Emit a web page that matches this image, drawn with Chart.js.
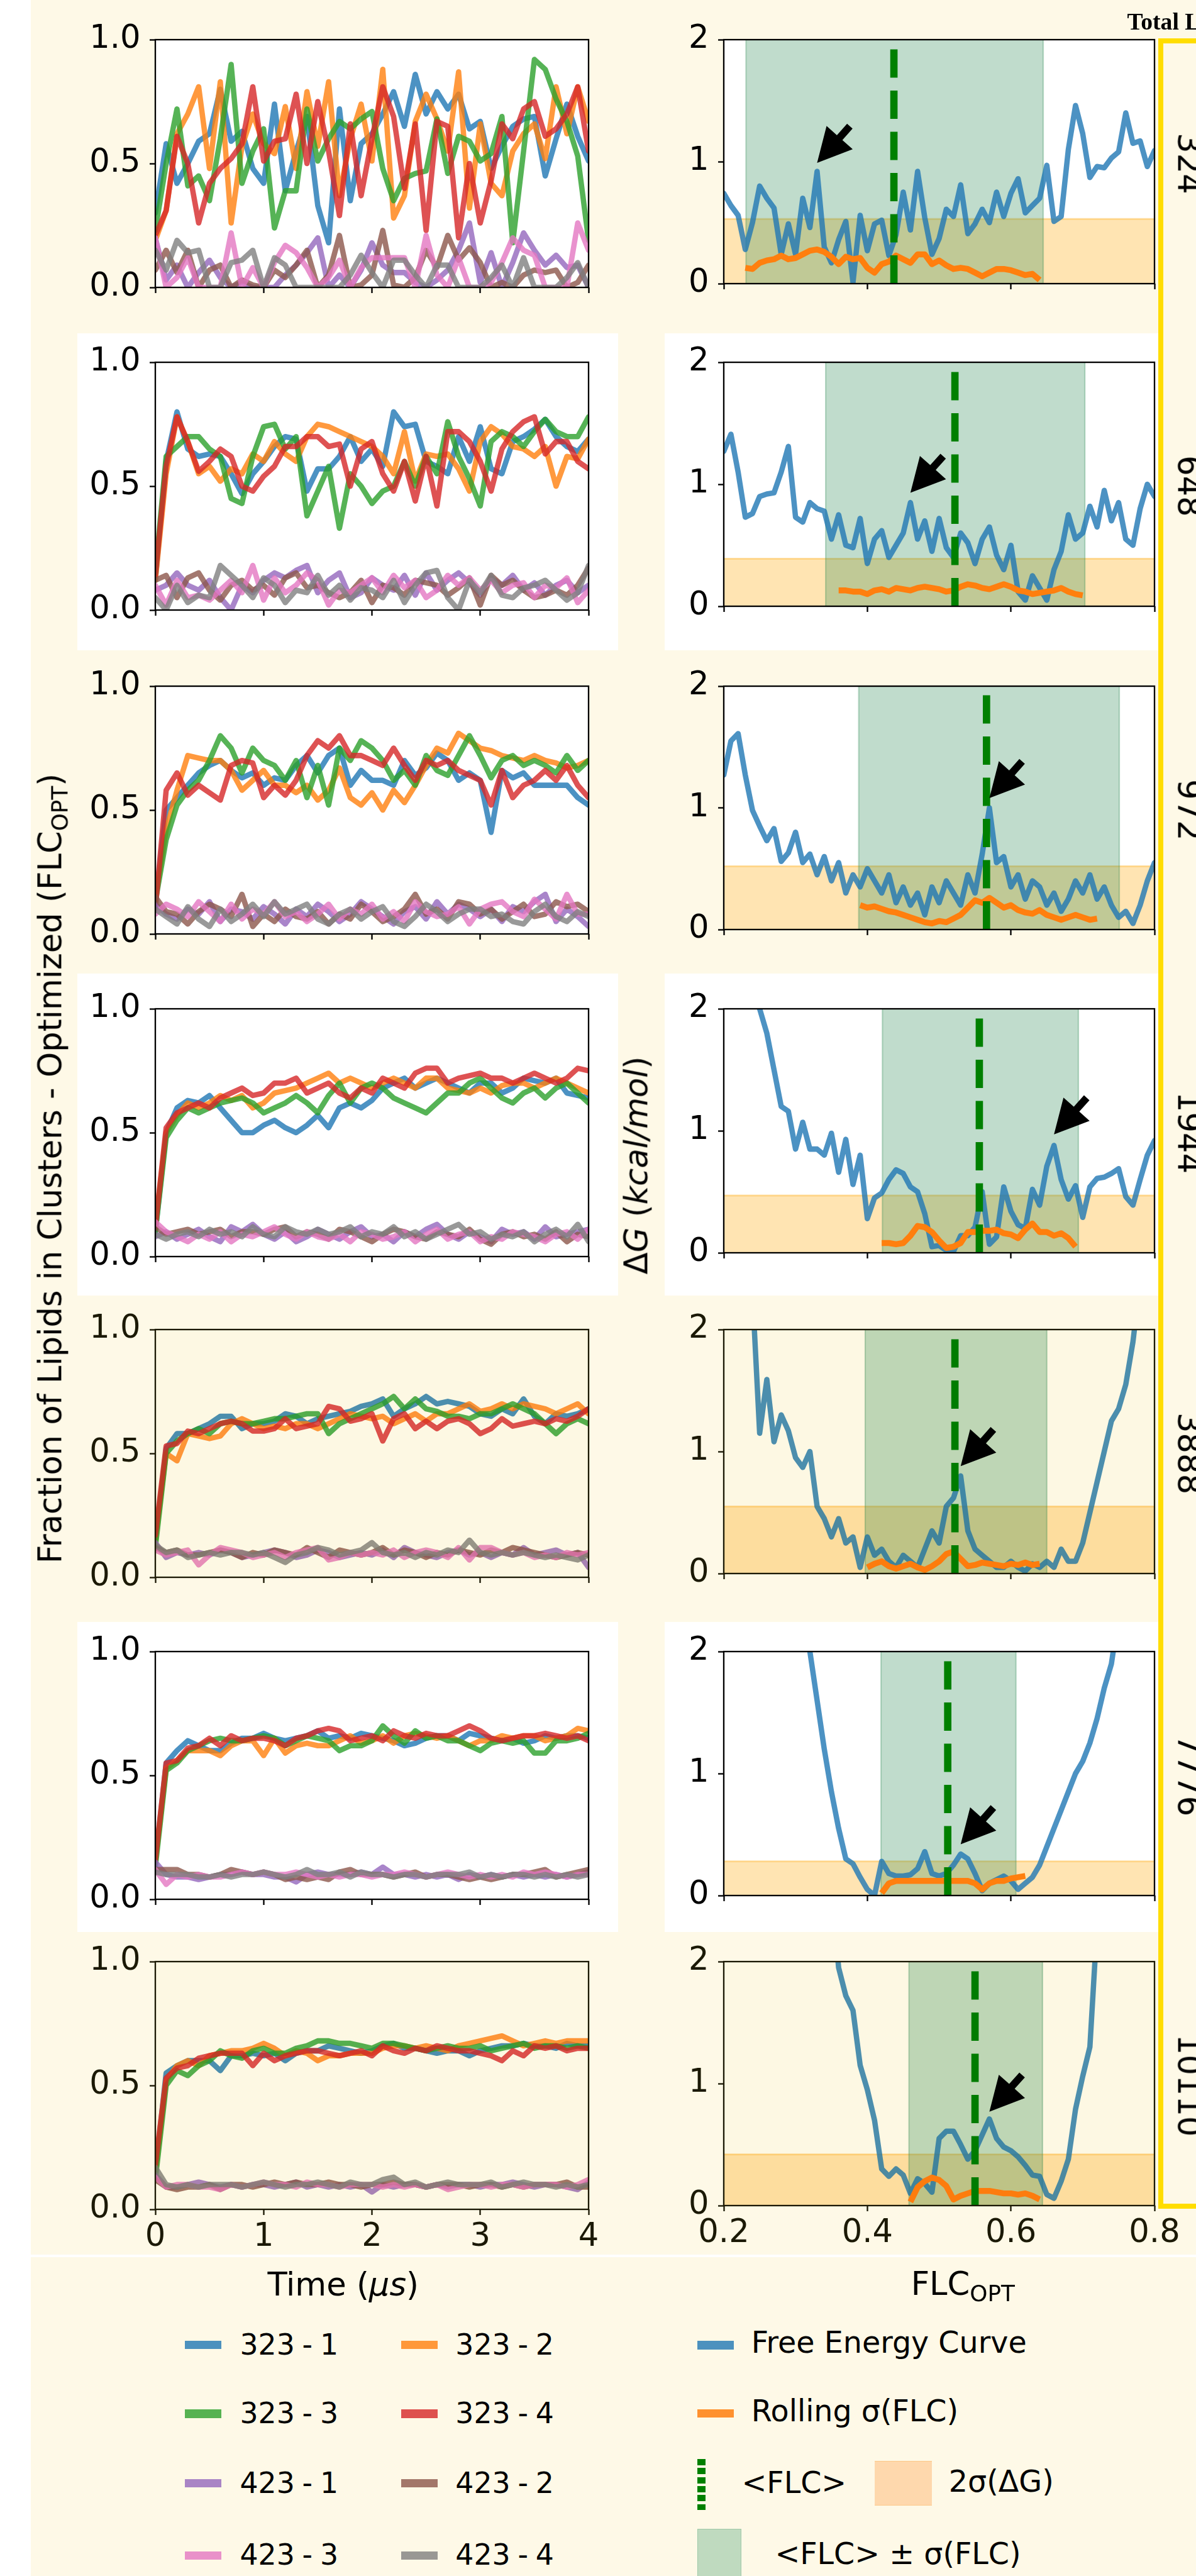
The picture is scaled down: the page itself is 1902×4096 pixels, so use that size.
<!DOCTYPE html>
<html>
<head>
<meta charset="utf-8">
<title>Lipid clustering vs. system size</title>
<script src="https://cdn.jsdelivr.net/npm/chart.js@4.4.1/dist/chart.umd.min.js"></script>
<style>
  html, body { margin: 0; padding: 0; background: #ffffff; }
  #fig { position: relative; width: 1902px; height: 4096px; overflow: hidden; background: #ffffff; font-family: "DejaVu Sans", sans-serif; }
  #fig div { position: absolute; }
  #fig canvas { position: absolute; }
  .lbl { white-space: nowrap; color: #000; line-height: 1; }
  .sub { font-size: 0.7em; position: relative; top: 0.28em; }
</style>
</head>
<body>
<div id="fig"></div>
<script>
// layout is written in source pixels (2119 x 4563) and scaled down by S
const S = 1902 / 2119;
const fig = document.getElementById("fig");

// ---------- data ----------
const time = [0.0, 0.1, 0.2, 0.3, 0.4, 0.5, 0.6, 0.7, 0.8, 0.9,
  1.0, 1.1, 1.2, 1.3, 1.4, 1.5, 1.6, 1.7, 1.8, 1.9,
  2.0, 2.1, 2.2, 2.3, 2.4, 2.5, 2.6, 2.7, 2.8, 2.9,
  3.0, 3.1, 3.2, 3.3, 3.4, 3.5, 3.6, 3.7, 3.8, 3.9,
  4.0];

const runs = ["323 - 1", "323 - 2", "323 - 3", "323 - 4", "423 - 1", "423 - 2", "423 - 3", "423 - 4"];
const runColors = [
  "rgba(31,119,180,0.8)", "rgba(255,127,14,0.8)", "rgba(44,160,44,0.8)", "rgba(214,39,40,0.8)",
  "rgba(148,103,189,0.8)", "rgba(140,86,75,0.8)", "rgba(227,119,194,0.8)", "rgba(127,127,127,0.8)"
];
const totals = ["324", "648", "972", "1944", "3888", "7776", "10110"];

// fraction of lipids in clusters, one array per run, for each system size
const frac324 = [
  [0.30,0.58,0.42,0.50,0.59,0.62,0.80,0.59,0.63,0.48, 0.42,0.74,0.39,0.55,0.69,0.33,0.18,0.72,0.35,0.58, 0.62,0.70,0.79,0.65,0.86,0.70,0.79,0.72,0.78,0.64, 0.67,0.48,0.57,0.65,0.68,0.69,0.45,0.60,0.74,0.61, 0.51],
  [0.19,0.31,0.62,0.70,0.81,0.48,0.83,0.26,0.57,0.70, 0.58,0.54,0.73,0.48,0.79,0.57,0.83,0.37,0.60,0.74, 0.51,0.88,0.28,0.37,0.67,0.78,0.68,0.55,0.87,0.32, 0.66,0.42,0.37,0.55,0.62,0.66,0.52,0.81,0.62,0.81, 0.67],
  [0.23,0.50,0.72,0.41,0.45,0.35,0.60,0.90,0.42,0.55, 0.64,0.24,0.39,0.39,0.72,0.51,0.60,0.67,0.64,0.68, 0.71,0.48,0.35,0.44,0.46,0.47,0.68,0.46,0.61,0.59, 0.51,0.54,0.69,0.18,0.55,0.92,0.88,0.76,0.67,0.53, 0.19],
  [0.21,0.31,0.61,0.50,0.26,0.42,0.48,0.52,0.58,0.81, 0.51,0.59,0.60,0.78,0.50,0.75,0.55,0.29,0.66,0.37, 0.60,0.81,0.69,0.40,0.66,0.23,0.67,0.65,0.20,0.50, 0.26,0.43,0.66,0.60,0.72,0.75,0.61,0.64,0.70,0.81, 0.55],
  [0.20,0.03,0.09,0.00,0.06,0.11,0.04,0.00,0.02,0.00, 0.00,0.00,0.05,0.09,0.14,0.20,0.00,0.05,0.00,0.07, 0.18,0.09,0.06,0.06,0.02,0.00,0.03,0.07,0.15,0.26, 0.02,0.14,0.00,0.10,0.22,0.15,0.09,0.13,0.08,0.09, 0.00],
  [0.07,0.15,0.06,0.15,0.00,0.07,0.09,0.00,0.03,0.01, 0.00,0.07,0.04,0.09,0.15,0.00,0.05,0.21,0.00,0.01, 0.05,0.23,0.01,0.00,0.04,0.15,0.08,0.21,0.11,0.16, 0.10,0.00,0.02,0.00,0.05,0.07,0.06,0.07,0.00,0.02, 0.09],
  [0.20,0.00,0.04,0.12,0.00,0.00,0.00,0.22,0.00,0.08, 0.00,0.10,0.17,0.14,0.08,0.00,0.04,0.11,0.00,0.08, 0.12,0.12,0.12,0.12,0.00,0.21,0.05,0.00,0.12,0.00, 0.00,0.02,0.10,0.20,0.15,0.13,0.00,0.00,0.00,0.26, 0.15],
  [0.15,0.07,0.19,0.14,0.15,0.00,0.00,0.10,0.11,0.15, 0.00,0.12,0.09,0.00,0.00,0.00,0.00,0.00,0.05,0.13, 0.06,0.00,0.11,0.11,0.05,0.00,0.09,0.09,0.00,0.00, 0.00,0.04,0.09,0.00,0.12,0.00,0.00,0.00,0.04,0.10, 0.00]
];
const frac648 = [
  [0.12,0.60,0.80,0.65,0.62,0.63,0.62,0.55,0.47,0.55, 0.60,0.66,0.70,0.69,0.48,0.57,0.57,0.62,0.70,0.60, 0.65,0.58,0.80,0.74,0.75,0.60,0.58,0.55,0.70,0.60, 0.74,0.57,0.55,0.68,0.70,0.73,0.77,0.70,0.66,0.64, 0.69],
  [0.12,0.55,0.78,0.68,0.55,0.58,0.52,0.57,0.55,0.63, 0.60,0.68,0.63,0.60,0.70,0.75,0.74,0.72,0.70,0.68, 0.66,0.62,0.55,0.72,0.52,0.63,0.62,0.63,0.57,0.48, 0.68,0.74,0.71,0.66,0.65,0.62,0.66,0.50,0.62,0.61, 0.69],
  [0.15,0.62,0.66,0.70,0.70,0.65,0.62,0.45,0.43,0.62, 0.74,0.75,0.65,0.70,0.38,0.48,0.58,0.33,0.55,0.50, 0.43,0.48,0.50,0.60,0.50,0.62,0.55,0.76,0.62,0.53, 0.42,0.68,0.72,0.70,0.66,0.72,0.77,0.72,0.70,0.70, 0.78],
  [0.14,0.58,0.78,0.68,0.56,0.60,0.65,0.62,0.50,0.48, 0.54,0.58,0.66,0.66,0.70,0.70,0.66,0.67,0.50,0.65, 0.68,0.55,0.48,0.60,0.44,0.62,0.42,0.72,0.72,0.68, 0.60,0.48,0.65,0.72,0.76,0.78,0.63,0.68,0.68,0.60, 0.57],
  [0.08,0.10,0.15,0.10,0.08,0.12,0.05,0.00,0.10,0.07, 0.12,0.15,0.13,0.16,0.18,0.07,0.12,0.15,0.05,0.07, 0.13,0.10,0.08,0.14,0.06,0.15,0.08,0.12,0.15,0.11, 0.06,0.13,0.10,0.14,0.08,0.11,0.06,0.10,0.12,0.07, 0.10],
  [0.12,0.14,0.05,0.13,0.15,0.08,0.04,0.10,0.12,0.08, 0.10,0.06,0.13,0.15,0.09,0.10,0.07,0.05,0.07,0.12, 0.03,0.10,0.09,0.06,0.12,0.11,0.10,0.06,0.09,0.13, 0.02,0.14,0.10,0.12,0.08,0.05,0.06,0.08,0.06,0.10, 0.17],
  [0.10,0.02,0.12,0.05,0.06,0.04,0.08,0.12,0.07,0.18, 0.04,0.13,0.07,0.10,0.15,0.12,0.02,0.08,0.07,0.10, 0.13,0.07,0.14,0.09,0.12,0.05,0.08,0.14,0.10,0.13, 0.08,0.12,0.07,0.10,0.11,0.05,0.10,0.09,0.13,0.03, 0.08],
  [0.05,0.00,0.10,0.03,0.06,0.05,0.18,0.14,0.10,0.05, 0.13,0.10,0.03,0.08,0.07,0.14,0.06,0.10,0.04,0.09, 0.08,0.05,0.12,0.03,0.10,0.15,0.16,0.05,0.00,0.12, 0.07,0.14,0.06,0.05,0.09,0.10,0.12,0.08,0.04,0.07, 0.18]
];
const frac972 = [
  [0.12,0.50,0.55,0.60,0.65,0.68,0.70,0.66,0.63,0.65, 0.60,0.63,0.62,0.68,0.72,0.65,0.72,0.75,0.60,0.66, 0.62,0.62,0.60,0.70,0.64,0.67,0.73,0.70,0.62,0.65, 0.62,0.41,0.66,0.63,0.65,0.60,0.60,0.60,0.60,0.55, 0.52],
  [0.14,0.42,0.58,0.72,0.71,0.70,0.70,0.66,0.58,0.62, 0.66,0.60,0.60,0.57,0.60,0.54,0.58,0.67,0.55,0.52, 0.57,0.50,0.58,0.53,0.60,0.68,0.75,0.73,0.81,0.78, 0.75,0.74,0.72,0.71,0.70,0.72,0.70,0.69,0.67,0.68, 0.70],
  [0.13,0.38,0.52,0.58,0.62,0.70,0.80,0.75,0.65,0.75, 0.70,0.68,0.62,0.70,0.55,0.68,0.52,0.75,0.70,0.78, 0.75,0.70,0.62,0.66,0.60,0.72,0.66,0.64,0.72,0.80, 0.72,0.63,0.70,0.72,0.68,0.70,0.68,0.65,0.72,0.66, 0.70],
  [0.10,0.58,0.65,0.56,0.60,0.57,0.54,0.68,0.70,0.69, 0.55,0.60,0.56,0.62,0.72,0.78,0.75,0.80,0.72,0.72, 0.70,0.68,0.75,0.68,0.62,0.70,0.68,0.70,0.66,0.64, 0.62,0.52,0.66,0.55,0.60,0.62,0.66,0.62,0.68,0.60, 0.55],
  [0.12,0.08,0.06,0.10,0.08,0.13,0.05,0.10,0.09,0.06, 0.11,0.08,0.04,0.10,0.07,0.12,0.09,0.05,0.08,0.13, 0.10,0.07,0.04,0.09,0.11,0.06,0.13,0.08,0.12,0.10, 0.07,0.10,0.05,0.11,0.09,0.13,0.16,0.05,0.10,0.07, 0.03],
  [0.15,0.09,0.08,0.04,0.09,0.12,0.10,0.07,0.16,0.03, 0.08,0.05,0.10,0.07,0.06,0.09,0.04,0.08,0.06,0.12, 0.09,0.05,0.07,0.10,0.16,0.08,0.10,0.06,0.13,0.12, 0.08,0.10,0.06,0.09,0.12,0.07,0.08,0.13,0.11,0.12, 0.09],
  [0.08,0.12,0.10,0.07,0.13,0.09,0.05,0.12,0.06,0.10, 0.08,0.13,0.07,0.09,0.05,0.08,0.12,0.06,0.10,0.08, 0.12,0.06,0.09,0.05,0.13,0.09,0.07,0.08,0.11,0.04, 0.10,0.12,0.13,0.09,0.07,0.14,0.10,0.06,0.16,0.08, 0.08],
  [0.10,0.07,0.04,0.11,0.06,0.03,0.10,0.05,0.08,0.12, 0.07,0.13,0.08,0.10,0.12,0.06,0.04,0.08,0.10,0.06, 0.09,0.11,0.05,0.03,0.07,0.12,0.09,0.05,0.08,0.10, 0.10,0.07,0.08,0.05,0.04,0.09,0.12,0.07,0.05,0.09, 0.07]
];
const frac1944 = [
  [0.10,0.50,0.60,0.63,0.62,0.65,0.60,0.55,0.50,0.50, 0.53,0.55,0.52,0.50,0.53,0.57,0.52,0.60,0.62,0.60, 0.63,0.68,0.70,0.72,0.68,0.70,0.72,0.70,0.68,0.66, 0.70,0.70,0.66,0.68,0.72,0.71,0.70,0.72,0.66,0.65, 0.64],
  [0.12,0.50,0.57,0.62,0.60,0.62,0.65,0.63,0.65,0.60, 0.62,0.66,0.67,0.68,0.70,0.72,0.74,0.70,0.72,0.70, 0.68,0.70,0.72,0.70,0.68,0.72,0.72,0.68,0.67,0.66, 0.68,0.66,0.69,0.70,0.70,0.68,0.70,0.72,0.70,0.68, 0.66],
  [0.10,0.48,0.55,0.60,0.58,0.60,0.62,0.63,0.64,0.62, 0.58,0.60,0.62,0.65,0.62,0.58,0.65,0.70,0.62,0.68, 0.70,0.68,0.64,0.62,0.60,0.58,0.62,0.66,0.66,0.70, 0.72,0.68,0.64,0.62,0.66,0.68,0.64,0.68,0.70,0.66, 0.62],
  [0.12,0.52,0.58,0.60,0.62,0.60,0.64,0.66,0.68,0.65, 0.66,0.70,0.70,0.72,0.66,0.68,0.70,0.66,0.64,0.68, 0.66,0.72,0.70,0.68,0.74,0.76,0.76,0.70,0.72,0.73, 0.74,0.72,0.72,0.70,0.72,0.74,0.72,0.70,0.72,0.76, 0.75],
  [0.08,0.10,0.07,0.09,0.11,0.08,0.06,0.12,0.10,0.13, 0.09,0.07,0.10,0.06,0.08,0.11,0.09,0.07,0.10,0.12, 0.08,0.09,0.06,0.10,0.08,0.11,0.13,0.09,0.07,0.10, 0.08,0.06,0.11,0.09,0.10,0.07,0.12,0.08,0.09,0.10, 0.11],
  [0.12,0.09,0.10,0.11,0.09,0.10,0.11,0.08,0.10,0.10, 0.09,0.11,0.12,0.08,0.10,0.09,0.07,0.11,0.10,0.08, 0.06,0.09,0.11,0.10,0.08,0.07,0.10,0.09,0.08,0.11, 0.07,0.05,0.09,0.10,0.08,0.09,0.07,0.10,0.06,0.09, 0.08],
  [0.14,0.10,0.08,0.06,0.09,0.07,0.10,0.06,0.09,0.08, 0.10,0.12,0.09,0.07,0.10,0.08,0.07,0.09,0.06,0.10, 0.09,0.07,0.08,0.10,0.06,0.09,0.11,0.07,0.09,0.10, 0.06,0.08,0.07,0.10,0.09,0.08,0.06,0.09,0.10,0.07, 0.11],
  [0.09,0.07,0.09,0.10,0.08,0.11,0.09,0.10,0.08,0.12, 0.09,0.08,0.12,0.10,0.09,0.11,0.09,0.10,0.12,0.08, 0.10,0.09,0.12,0.08,0.10,0.07,0.09,0.11,0.13,0.09, 0.10,0.07,0.09,0.08,0.10,0.06,0.09,0.11,0.08,0.13, 0.06]
];
const frac3888 = [
  [0.15,0.52,0.58,0.58,0.60,0.62,0.65,0.65,0.60,0.62, 0.62,0.63,0.66,0.65,0.62,0.64,0.65,0.66,0.67,0.69, 0.70,0.72,0.65,0.68,0.70,0.73,0.70,0.71,0.70,0.69, 0.66,0.65,0.68,0.66,0.72,0.65,0.62,0.66,0.65,0.66, 0.68],
  [0.15,0.50,0.47,0.58,0.57,0.56,0.57,0.62,0.64,0.62, 0.60,0.61,0.60,0.62,0.62,0.60,0.62,0.64,0.66,0.65, 0.64,0.65,0.62,0.64,0.66,0.63,0.66,0.66,0.68,0.70, 0.67,0.68,0.70,0.68,0.70,0.69,0.68,0.66,0.68,0.70, 0.66],
  [0.12,0.50,0.55,0.58,0.60,0.58,0.62,0.63,0.62,0.62, 0.63,0.64,0.64,0.65,0.66,0.66,0.58,0.62,0.64,0.66, 0.68,0.70,0.73,0.68,0.72,0.68,0.67,0.65,0.65,0.64, 0.66,0.66,0.68,0.70,0.68,0.66,0.62,0.58,0.62,0.64, 0.62],
  [0.17,0.53,0.54,0.59,0.58,0.60,0.62,0.63,0.62,0.59, 0.59,0.60,0.64,0.60,0.61,0.62,0.69,0.68,0.63,0.64, 0.66,0.55,0.64,0.66,0.60,0.63,0.60,0.63,0.64,0.62, 0.58,0.60,0.64,0.61,0.62,0.63,0.62,0.64,0.63,0.65, 0.68],
  [0.14,0.08,0.10,0.09,0.10,0.09,0.11,0.10,0.08,0.09, 0.10,0.11,0.10,0.08,0.09,0.11,0.10,0.08,0.09,0.10, 0.09,0.11,0.08,0.12,0.10,0.09,0.08,0.10,0.11,0.09, 0.10,0.08,0.10,0.09,0.12,0.09,0.10,0.11,0.09,0.10, 0.04],
  [0.12,0.10,0.11,0.09,0.09,0.10,0.11,0.10,0.08,0.10, 0.09,0.11,0.10,0.09,0.12,0.10,0.08,0.11,0.10,0.09, 0.10,0.12,0.09,0.11,0.10,0.08,0.10,0.09,0.11,0.10, 0.09,0.11,0.10,0.12,0.11,0.10,0.09,0.08,0.09,0.10, 0.09],
  [0.11,0.09,0.10,0.11,0.05,0.09,0.12,0.11,0.10,0.08, 0.09,0.10,0.08,0.10,0.11,0.12,0.07,0.08,0.10,0.09, 0.10,0.09,0.11,0.08,0.10,0.11,0.10,0.08,0.12,0.07, 0.12,0.12,0.10,0.09,0.10,0.08,0.09,0.08,0.10,0.09, 0.10],
  [0.13,0.10,0.11,0.08,0.09,0.10,0.09,0.10,0.10,0.09, 0.10,0.08,0.06,0.09,0.10,0.12,0.11,0.09,0.10,0.11, 0.14,0.10,0.09,0.10,0.08,0.10,0.09,0.11,0.10,0.15, 0.10,0.09,0.10,0.09,0.10,0.09,0.08,0.09,0.08,0.07, 0.09]
];
const frac7776 = [
  [0.15,0.55,0.60,0.64,0.62,0.60,0.60,0.63,0.65,0.65, 0.67,0.65,0.64,0.65,0.66,0.68,0.65,0.66,0.65,0.67, 0.66,0.65,0.64,0.62,0.63,0.65,0.66,0.66,0.64,0.67, 0.66,0.65,0.64,0.65,0.63,0.64,0.66,0.65,0.66,0.66, 0.65],
  [0.15,0.53,0.56,0.60,0.60,0.60,0.58,0.62,0.64,0.64, 0.58,0.65,0.59,0.62,0.63,0.62,0.62,0.64,0.66,0.63, 0.64,0.66,0.63,0.66,0.67,0.66,0.65,0.66,0.64,0.62, 0.64,0.64,0.66,0.65,0.66,0.66,0.64,0.65,0.66,0.69, 0.68],
  [0.13,0.52,0.55,0.60,0.62,0.64,0.65,0.64,0.64,0.65, 0.66,0.65,0.62,0.64,0.66,0.65,0.64,0.60,0.62,0.62, 0.64,0.70,0.66,0.63,0.68,0.65,0.66,0.64,0.64,0.62, 0.60,0.63,0.64,0.63,0.64,0.59,0.59,0.64,0.64,0.65, 0.67],
  [0.16,0.55,0.56,0.61,0.62,0.65,0.62,0.66,0.64,0.65, 0.65,0.64,0.62,0.65,0.66,0.68,0.69,0.68,0.64,0.65, 0.66,0.64,0.68,0.66,0.65,0.67,0.66,0.66,0.68,0.70, 0.68,0.65,0.64,0.65,0.66,0.66,0.67,0.66,0.65,0.66, 0.64],
  [0.15,0.10,0.09,0.09,0.08,0.09,0.10,0.10,0.11,0.10, 0.10,0.09,0.09,0.07,0.10,0.11,0.10,0.10,0.10,0.11, 0.10,0.13,0.10,0.10,0.09,0.10,0.09,0.10,0.08,0.10, 0.09,0.10,0.09,0.10,0.09,0.10,0.09,0.10,0.09,0.10, 0.11],
  [0.12,0.12,0.12,0.10,0.10,0.09,0.10,0.12,0.11,0.10, 0.11,0.10,0.08,0.09,0.08,0.09,0.08,0.11,0.12,0.10, 0.10,0.10,0.09,0.10,0.11,0.09,0.10,0.10,0.09,0.08, 0.09,0.08,0.09,0.10,0.10,0.11,0.12,0.09,0.10,0.11, 0.12],
  [0.12,0.06,0.10,0.09,0.10,0.09,0.09,0.10,0.11,0.10, 0.11,0.10,0.10,0.11,0.10,0.09,0.10,0.09,0.10,0.10, 0.09,0.10,0.10,0.11,0.10,0.09,0.10,0.11,0.10,0.09, 0.10,0.09,0.10,0.09,0.11,0.10,0.11,0.10,0.09,0.10, 0.10],
  [0.11,0.10,0.10,0.10,0.09,0.09,0.10,0.09,0.10,0.10, 0.11,0.10,0.09,0.10,0.12,0.10,0.10,0.11,0.09,0.11, 0.10,0.10,0.09,0.10,0.10,0.09,0.10,0.10,0.10,0.11, 0.09,0.10,0.09,0.10,0.10,0.09,0.10,0.09,0.10,0.09, 0.10]
];
const frac10110 = [
  [0.15,0.55,0.58,0.60,0.60,0.60,0.56,0.62,0.62,0.63, 0.62,0.63,0.60,0.63,0.64,0.64,0.66,0.65,0.64,0.63, 0.64,0.66,0.67,0.65,0.65,0.64,0.63,0.64,0.64,0.62, 0.64,0.65,0.66,0.66,0.67,0.66,0.66,0.65,0.67,0.66, 0.66],
  [0.15,0.52,0.58,0.60,0.58,0.62,0.63,0.64,0.64,0.65, 0.67,0.65,0.62,0.64,0.63,0.60,0.62,0.62,0.63,0.63, 0.63,0.65,0.66,0.66,0.65,0.66,0.65,0.64,0.66,0.67, 0.68,0.69,0.70,0.68,0.66,0.67,0.68,0.67,0.68,0.68, 0.68],
  [0.12,0.50,0.56,0.54,0.58,0.60,0.64,0.62,0.61,0.64, 0.65,0.63,0.63,0.65,0.66,0.68,0.68,0.67,0.67,0.66, 0.65,0.67,0.67,0.66,0.65,0.64,0.65,0.66,0.65,0.65, 0.66,0.64,0.65,0.66,0.67,0.65,0.66,0.66,0.65,0.66, 0.65],
  [0.18,0.53,0.57,0.58,0.61,0.62,0.63,0.63,0.63,0.58, 0.63,0.60,0.62,0.63,0.64,0.64,0.63,0.62,0.63,0.64, 0.62,0.66,0.64,0.63,0.65,0.64,0.66,0.65,0.64,0.64, 0.63,0.62,0.60,0.64,0.62,0.66,0.65,0.66,0.64,0.65, 0.65],
  [0.14,0.09,0.09,0.10,0.11,0.10,0.09,0.10,0.09,0.10, 0.10,0.09,0.10,0.11,0.09,0.10,0.09,0.10,0.09,0.10, 0.07,0.10,0.09,0.10,0.10,0.09,0.10,0.09,0.10,0.10, 0.09,0.10,0.10,0.11,0.10,0.09,0.10,0.10,0.09,0.08, 0.11],
  [0.12,0.09,0.08,0.09,0.09,0.10,0.08,0.10,0.10,0.09, 0.10,0.11,0.10,0.11,0.10,0.10,0.11,0.10,0.10,0.09, 0.10,0.10,0.11,0.10,0.10,0.09,0.10,0.10,0.10,0.09, 0.10,0.10,0.09,0.10,0.09,0.10,0.10,0.10,0.11,0.09, 0.09],
  [0.13,0.09,0.10,0.10,0.09,0.09,0.08,0.10,0.09,0.10, 0.11,0.10,0.10,0.09,0.11,0.10,0.10,0.09,0.10,0.10, 0.10,0.09,0.10,0.09,0.10,0.09,0.10,0.08,0.09,0.10, 0.10,0.09,0.10,0.10,0.09,0.10,0.10,0.10,0.09,0.10, 0.12],
  [0.17,0.10,0.09,0.10,0.09,0.10,0.10,0.10,0.09,0.10, 0.11,0.10,0.09,0.10,0.10,0.11,0.10,0.09,0.11,0.10, 0.10,0.12,0.13,0.10,0.11,0.09,0.10,0.11,0.10,0.10, 0.10,0.11,0.09,0.10,0.11,0.10,0.10,0.09,0.10,0.09, 0.10]
];
const fracAll = [frac324, frac648, frac972, frac1944, frac3888, frac7776, frac10110];

// FLC_OPT bins for the free energy panels
const flcGrid = [0.20,0.21,0.22,0.23,0.24,0.25,0.26,0.27,0.28,0.29,
  0.30,0.31,0.32,0.33,0.34,0.35,0.36,0.37,0.38,0.39,
  0.40,0.41,0.42,0.43,0.44,0.45,0.46,0.47,0.48,0.49,
  0.50,0.51,0.52,0.53,0.54,0.55,0.56,0.57,0.58,0.59,
  0.60,0.61,0.62,0.63,0.64,0.65,0.66,0.67,0.68,0.69,
  0.70,0.71,0.72,0.73,0.74,0.75,0.76,0.77,0.78,0.79,
  0.80];

// free energy curves (kcal/mol); feStart = index of first bin in flcGrid
const fe324 = [0.74,0.64,0.56,0.28,0.50,0.80,0.70,0.62,0.24,0.49,
  0.24,0.70,0.46,0.92,0.30,0.17,0.36,0.51,0.01,0.56,
  0.27,0.49,0.52,0.23,0.40,0.75,0.44,0.92,0.54,0.24,
  0.37,0.61,0.55,0.81,0.41,0.49,0.61,0.50,0.75,0.55,
  0.74,0.86,0.58,0.64,0.70,0.97,0.51,0.55,1.10,1.46,
  1.23,0.87,0.96,0.95,1.03,1.08,1.40,1.15,1.17,0.96,
  1.09];
const fe648 = [1.27,1.41,1.10,0.73,0.76,0.90,0.92,0.93,1.10,1.31,
  0.73,0.69,0.85,0.80,0.78,0.55,0.75,0.50,0.48,0.72,
  0.35,0.55,0.62,0.40,0.50,0.60,0.85,0.55,0.70,0.45,
  0.72,0.48,0.40,0.60,0.52,0.35,0.55,0.65,0.42,0.30,
  0.50,0.12,0.05,0.25,0.15,0.05,0.30,0.45,0.75,0.55,
  0.60,0.82,0.65,0.95,0.70,0.85,0.55,0.50,0.80,1.00,
  0.90];
const fe972 = [1.27,1.55,1.61,1.27,0.98,0.85,0.73,0.83,0.56,0.63,
  0.80,0.55,0.62,0.45,0.60,0.40,0.55,0.30,0.45,0.35,
  0.50,0.40,0.30,0.45,0.22,0.35,0.20,0.30,0.12,0.35,
  0.22,0.40,0.30,0.20,0.45,0.30,0.62,1.00,0.55,0.60,
  0.35,0.45,0.25,0.40,0.35,0.20,0.30,0.15,0.25,0.40,
  0.30,0.45,0.25,0.35,0.20,0.10,0.15,0.05,0.20,0.40,
  0.55];
const fe1944 = [2.80,2.60,2.40,2.20,2.10,2.00,1.80,1.50,1.20,1.16,
  0.85,1.07,0.85,0.85,0.80,0.98,0.66,0.93,0.56,0.80,
  0.28,0.45,0.49,0.60,0.68,0.65,0.54,0.50,0.32,0.05,
  0.06,0.02,0.01,0.14,0.14,0.21,0.50,0.07,0.13,0.54,
  0.34,0.23,0.20,0.52,0.39,0.71,0.88,0.60,0.44,0.55,
  0.29,0.54,0.61,0.62,0.65,0.69,0.46,0.39,0.60,0.80,
  0.92];
const fe3888 = [null,null,null,2.80,2.30,1.15,1.59,1.08,1.30,1.17,
  0.95,0.87,1.00,0.55,0.45,0.30,0.45,0.25,0.30,0.05,
  0.30,0.15,0.20,0.10,0.05,0.15,0.10,0.05,0.20,0.35,
  0.25,0.55,0.62,0.80,0.35,0.20,0.15,0.10,0.05,0.05,
  0.10,0.05,0.02,0.08,0.05,0.10,0.05,0.20,0.10,0.10,
  0.25,0.50,0.75,1.00,1.25,1.35,1.55,1.90,2.40,null,
  null];
const fe7776 = [2.60,2.00,1.60,1.20,0.85,0.55,0.30,0.26,0.15,
  0.05,0.00,0.28,0.18,0.16,0.16,0.17,0.22,0.36,0.18,
  0.16,0.18,0.25,0.34,0.30,0.18,0.04,0.10,0.13,0.16,
  0.12,0.05,0.10,0.15,0.25,0.40,0.55,0.70,0.85,1.00,
  1.10,1.25,1.45,1.70,1.90,2.30,2.80];
const fe10110 = [2.60,1.95,1.72,1.60,1.15,
  0.95,0.70,0.30,0.24,0.30,0.25,0.10,0.22,0.18,0.11,
  0.55,0.61,0.61,0.50,0.38,0.45,0.58,0.71,0.55,0.48,
  0.45,0.40,0.33,0.25,0.24,0.09,0.06,0.20,0.38,0.79,
  1.06,1.30,2.30];
const feAll = [fe324, fe648, fe972, fe1944, fe3888, fe7776, fe10110];
const feStart = [0, 0, 0, 0, 0, 11, 15];

// rolling sigma of FLC; sdStart = index of first bin in flcGrid
const sd324 = [0.13,0.12,0.17,0.19,0.20,0.23,0.20,0.21,0.24,0.27, 0.28,0.26,0.22,0.16,0.22,0.20,0.21,0.13,0.09,0.16, 0.18,0.23,0.20,0.17,0.24,0.24,0.16,0.19,0.15,0.12, 0.13,0.12,0.09,0.06,0.09,0.12,0.12,0.11,0.09,0.07, 0.08,0.03];
const sd648 = [0.13,0.13,0.12,0.12,0.10,0.13,0.14,0.12,0.15,0.14, 0.13,0.15,0.16,0.15,0.14,0.12,0.13,0.16,0.18,0.17, 0.15,0.14,0.16,0.18,0.16,0.13,0.12,0.10,0.11,0.12, 0.13,0.15,0.12,0.10,0.09];
const sd972 = [0.20,0.18,0.19,0.17,0.15,0.14,0.12,0.10,0.08,0.06, 0.05,0.07,0.06,0.09,0.12,0.18,0.24,0.22,0.26,0.22, 0.18,0.20,0.16,0.14,0.13,0.16,0.12,0.10,0.08,0.10, 0.12,0.10,0.08,0.09];
const sd1944 = [0.08,0.08,0.07,0.08,0.14,0.22,0.21,0.17,0.10,0.04, 0.05,0.08,0.17,0.17,0.18,0.18,0.19,0.16,0.15,0.12, 0.19,0.24,0.17,0.17,0.14,0.16,0.12,0.05];
const sd3888 = [0.05,0.08,0.10,0.06,0.04,0.06,0.08,0.05,0.03,0.06, 0.10,0.16,0.18,0.12,0.06,0.07,0.09,0.08,0.07,0.06, 0.08,0.07,0.09,0.07,0.08];
const sd7776 = [0.02,0.10,0.12,0.12,0.12,0.12,0.12,0.12,0.12,0.12, 0.12,0.12,0.12,0.10,0.05,0.10,0.12,0.12,0.14,0.15, 0.16];
const sd10110 = [0.03,0.15,0.20,0.23,0.21,0.16,0.05,0.08,0.10,0.12, 0.12,0.12,0.11,0.10,0.10,0.09,0.10,0.08,0.05];
const sdAll = [sd324, sd648, sd972, sd1944, sd3888, sd7776, sd10110];
const sdStart = [3, 16, 19, 22, 20, 22, 26];

const flcMean = [0.437, 0.522, 0.566, 0.556, 0.522, 0.512, 0.550];
const flcLow = [0.231, 0.342, 0.388, 0.421, 0.397, 0.419, 0.458];
const flcHigh = [0.645, 0.703, 0.751, 0.694, 0.650, 0.607, 0.644];
const dgBand = [0.53, 0.39, 0.52, 0.47, 0.55, 0.28, 0.42];   // 2 sigma(dG)
const arrowX = [0.33, 0.46, 0.57, 0.66, 0.53, 0.53, 0.57];
const arrowY = [0.99, 0.93, 1.08, 0.97, 0.88, 0.42, 0.77];

// ---------- page layout (source pixels) ----------
const rowTop = [70, 642, 1215, 1787, 2355, 2926, 3475];
const leftH = 439, rightH = 432;
const leftX0 = 275, leftX1 = 1043, rightX0 = 1282, rightX1 = 2046;
const whiteRows = [[591, 1152], [1725, 2295], [2873, 3422]];
const tinted = [false, false, false, false, true, false, true];
const cream = "#fef9e7";

function box(x, y, w, h, css) {
  const d = document.createElement("div");
  Object.assign(d.style, { left: x * S + "px", top: y * S + "px", width: w * S + "px", height: h * S + "px" }, css);
  fig.appendChild(d);
  return d;
}

function text(html, x, y, size, o = {}) {
  const d = document.createElement("div");
  d.className = "lbl";
  d.innerHTML = html;
  d.style.fontSize = (size * S).toFixed(2) + "px";
  d.style.left = (x * S).toFixed(2) + "px";
  d.style.top = (y * S).toFixed(2) + "px";
  let tf = o.left ? "translate(0,-50%)" : "translate(-50%,-50%)";
  if (o.rot) tf += " rotate(" + o.rot + "deg)";
  d.style.transform = tf;
  if (o.font) d.style.fontFamily = o.font;
  if (o.bold) d.style.fontWeight = "bold";
  if (o.ws) d.style.wordSpacing = o.ws;
  fig.appendChild(d);
  return d;
}

// backgrounds
box(55, 0, 2064, 4563, { background: cream });
whiteRows.forEach(([y0, y1]) => {
  box(137, y0, 958, y1 - y0, { background: "#ffffff" });
  box(1178, y0, 874, y1 - y0, { background: "#ffffff" });
});
box(55, 3994, 2064, 4, { background: "#ffffff" });
box(2052, 68, 200, 3913 - 68, { border: (9 * S) + "px solid #ffdd00", boxSizing: "border-box" });

// ---------- Chart.js plugins ----------
const frame = {
  id: "frame",
  beforeDraw(chart) {
    const { ctx, chartArea: a } = chart;
    ctx.save();
    ctx.fillStyle = "#ffffff";
    ctx.fillRect(a.left, a.top, a.right - a.left, a.bottom - a.top);
    ctx.restore();
  },
  afterDraw(chart, args, o) {
    const { ctx, chartArea: a } = chart;
    ctx.save();
    if (o.tint) {
      ctx.globalCompositeOperation = "multiply";
      ctx.fillStyle = "#fdf8e3";
      ctx.fillRect(a.left, a.top, a.right - a.left, a.bottom - a.top);
      ctx.globalCompositeOperation = "source-over";
    }
    ctx.strokeStyle = o.tint ? "#1b1905" : "#000000";
    ctx.lineWidth = 2.6 * S;
    ctx.strokeRect(a.left, a.top, a.right - a.left, a.bottom - a.top);
    ctx.restore();
  }
};

const flcMarks = {
  id: "flcMarks",
  beforeDatasetsDraw(chart, args, o) {
    if (o.mean === undefined) return;
    const { ctx, chartArea: a, scales: { x, y } } = chart;
    ctx.save();
    // 2 sigma(dG) band
    const yt = y.getPixelForValue(o.dg), yb = y.getPixelForValue(0);
    ctx.fillStyle = "rgba(255,165,0,0.3)";
    ctx.fillRect(a.left, yt, a.right - a.left, yb - yt);
    ctx.strokeStyle = "rgba(255,165,0,0.35)";
    ctx.lineWidth = 3 * S;
    ctx.beginPath(); ctx.moveTo(a.left, yt); ctx.lineTo(a.right, yt); ctx.stroke();
    // <FLC> +/- sigma band
    const xl = x.getPixelForValue(o.lo), xr = x.getPixelForValue(o.hi);
    ctx.fillStyle = "rgba(46,139,87,0.3)";
    ctx.fillRect(xl, a.top, xr - xl, a.bottom - a.top);
    ctx.strokeStyle = "rgba(46,139,87,0.3)";
    ctx.lineWidth = 2.5 * S;
    ctx.beginPath();
    ctx.moveTo(xl, a.top); ctx.lineTo(xl, a.bottom);
    ctx.moveTo(xr, a.top); ctx.lineTo(xr, a.bottom);
    ctx.stroke();
    ctx.restore();
  },
  afterDatasetsDraw(chart, args, o) {
    if (o.mean === undefined) return;
    const { ctx, scales: { x, y } } = chart;
    ctx.save();
    // mean FLC, dashed, drawn upward from 0
    const xm = x.getPixelForValue(o.mean);
    ctx.strokeStyle = "#008000";
    ctx.lineWidth = 13 * S;
    ctx.setLineDash([50 * S, 23 * S]);
    ctx.beginPath();
    ctx.moveTo(xm, y.getPixelForValue(0));
    ctx.lineTo(xm, y.getPixelForValue(2));
    ctx.stroke();
    ctx.setLineDash([]);
    // arrow pointing at the curve
    const px = x.getPixelForValue(o.tipX), py = y.getPixelForValue(o.tipY);
    const dx = 58 * S, dy = -65 * S;
    const len = Math.hypot(dx, dy), ux = dx / len, uy = dy / len, nx = -uy, ny = ux;
    const headLen = 60 * S, headHalf = 31 * S, shaftHalf = 6.5 * S;
    const bx = px + ux * headLen, by = py + uy * headLen;
    ctx.fillStyle = "#000000";
    ctx.beginPath();
    ctx.moveTo(px, py);
    ctx.lineTo(bx + nx * headHalf, by + ny * headHalf);
    ctx.lineTo(bx + nx * shaftHalf, by + ny * shaftHalf);
    ctx.lineTo(px + dx + nx * shaftHalf, py + dy + ny * shaftHalf);
    ctx.lineTo(px + dx - nx * shaftHalf, py + dy - ny * shaftHalf);
    ctx.lineTo(bx - nx * shaftHalf, by - ny * shaftHalf);
    ctx.lineTo(bx - nx * headHalf, by - ny * headHalf);
    ctx.closePath();
    ctx.fill();
    ctx.restore();
  }
};
Chart.register(frame, flcMarks);

const tickFont = { family: "DejaVu Sans", size: 57 * S };

function gridOpt(col) {
  return { drawOnChartArea: false, drawTicks: true, tickLength: 10 * S, tickWidth: 2.6 * S, tickColor: col };
}

// one canvas per panel; axis sizes are pinned so the plot area lands exactly on (x0,y0)-(x1,y1)
function panel(x0, x1, y0, y1, config) {
  const cx = Math.round((x0 - 190) * S), cy = Math.round((y0 - 50) * S);
  const cw = Math.round((x1 + 70) * S) - cx, ch = Math.round((y1 + 110) * S) - cy;
  const canvas = document.createElement("canvas");
  canvas.width = cw; canvas.height = ch;
  Object.assign(canvas.style, { left: cx + "px", top: cy + "px", width: cw + "px", height: ch + "px" });
  fig.appendChild(canvas);
  const padL = Math.round(x0 * S) - cx, padT = Math.round(y0 * S) - cy;
  const padR = cx + cw - Math.round(x1 * S), padB = cy + ch - Math.round(y1 * S);
  config.options.layout = { padding: { top: padT, right: padR, left: 0, bottom: 0 } };
  config.options.scales.y.afterFit = (axis) => { axis.width = padL; };
  config.options.scales.x.afterFit = (axis) => { axis.height = padB; };
  return new Chart(canvas, config);
}

function baseOptions(r) {
  return {
    responsive: false, animation: false, devicePixelRatio: 1, events: [],
    plugins: { legend: { display: false }, tooltip: { enabled: false }, frame: { tint: tinted[r] } }
  };
}

const lineW = 9.5 * S;   // run traces and free energy curve
const sdW = 10.5 * S;    // rolling sigma

for (let r = 0; r < 7; r++) {
  const col = tinted[r] ? "#1b1905" : "#000000";
  const last = r === 6;

  // cluster fraction vs time
  const optsL = baseOptions(r);
  optsL.scales = {
    x: { type: "linear", min: 0, max: 4, border: { display: false }, grid: gridOpt(col),
         ticks: { stepSize: 1, display: last, font: tickFont, color: col, padding: 6 * S, maxRotation: 0 } },
    y: { type: "linear", min: 0, max: 1, border: { display: false }, grid: gridOpt(col),
         ticks: { stepSize: 0.5, font: tickFont, color: col, padding: 16 * S, callback: (v) => v.toFixed(1) } }
  };
  panel(leftX0, leftX1, rowTop[r], rowTop[r] + leftH, {
    type: "line",
    data: {
      datasets: fracAll[r].map((vals, i) => ({
        label: runs[i],
        data: vals.map((v, k) => ({ x: time[k], y: v })),
        borderColor: runColors[i], borderWidth: lineW, pointRadius: 0, tension: 0,
        borderJoinStyle: "round", borderCapStyle: "round", fill: false, clip: 0, order: -i
      }))
    },
    options: optsL
  });

  // free energy vs FLC_OPT
  const optsR = baseOptions(r);
  optsR.plugins.flcMarks = { mean: flcMean[r], lo: flcLow[r], hi: flcHigh[r], dg: dgBand[r], tipX: arrowX[r], tipY: arrowY[r] };
  optsR.scales = {
    x: { type: "linear", min: 0.2, max: 0.8, border: { display: false }, grid: gridOpt(col),
         ticks: { stepSize: 0.2, display: last, font: tickFont, color: col, padding: 6 * S, maxRotation: 0, callback: (v) => v.toFixed(1) } },
    y: { type: "linear", min: 0, max: 2, border: { display: false }, grid: gridOpt(col),
         ticks: { stepSize: 1, font: tickFont, color: col, padding: 16 * S } }
  };
  panel(rightX0, rightX1, rowTop[r], rowTop[r] + rightH, {
    type: "line",
    data: {
      datasets: [
        { label: "Free Energy Curve",
          data: feAll[r].map((v, k) => ({ x: flcGrid[feStart[r] + k], y: v })),
          borderColor: "rgba(31,119,180,0.8)", borderWidth: lineW, pointRadius: 0, tension: 0,
          borderJoinStyle: "round", borderCapStyle: "round", fill: false, clip: 0, spanGaps: false, order: 1 },
        { label: "Rolling σ(FLC)",
          data: sdAll[r].map((v, k) => ({ x: flcGrid[sdStart[r] + k], y: v })),
          borderColor: "#ff7f0e", borderWidth: sdW, pointRadius: 0, tension: 0,
          borderJoinStyle: "round", borderCapStyle: "butt", fill: false, clip: 0, order: 0 }
      ]
    },
    options: optsR
  });

  // total lipid count, running down the right edge
  text(totals[r], 2107, rowTop[r] + leftH / 2, 57, { rot: 90 });
}

// ---------- axis titles ----------
text('Fraction of Lipids in Clusters - Optimized (FLC<span class="sub">OPT</span>)', 89, 2070, 57, { rot: -90 });
text('Δ<i>G</i> (<i>kcal/mol</i>)', 1128, 2064, 57, { rot: -90 });
text('Time (<i>μs</i>)', 608, 4048, 57);
text('FLC<span class="sub">OPT</span>', 1706, 4046, 57);
text('Total Lipids', 1997, 39, 42, { left: true, font: '"Liberation Serif", serif', bold: true });

// ---------- legends ----------
const legendY = [4154, 4276, 4399, 4527];
runs.forEach((name, i) => {
  const c = i % 2, row = Math.floor(i / 2);
  box(c ? 711 : 328, legendY[row] - 7.5, 64, 15, { background: runColors[i] });
  text(name, c ? 807 : 425, legendY[row], 51, { left: true, ws: "-0.06em" });
});

box(1236, 4147, 64, 15, { background: "rgba(31,119,180,0.8)" });
text("Free Energy Curve", 1331, 4150, 53, { left: true });
box(1236, 4268, 64, 15, { background: "rgba(255,127,14,0.85)" });
text("Rolling σ(FLC)", 1331, 4271, 53, { left: true });
box(1236, 4356, 14, 90, { background: "repeating-linear-gradient(to bottom, #008000 0px, #008000 " + (11 * S) + "px, transparent " + (11 * S) + "px, transparent " + (16 * S) + "px)" });
text("&lt;FLC&gt;", 1314, 4398, 53, { left: true });
box(1550, 4359, 101, 79, { background: "#fed8ad", borderTop: (2 * S) + "px solid #fdc98a", borderBottom: (2 * S) + "px solid #fdc98a", boxSizing: "border-box" });
text("2σ(ΔG)", 1681, 4396, 53, { left: true });
box(1236, 4480, 78, 100, { background: "#bfdabf", border: (1.5 * S) + "px solid #9ec9a9", boxSizing: "border-box" });
text("&lt;FLC&gt; ± σ(FLC)", 1373, 4524, 53, { left: true });
</script>
</body>
</html>
